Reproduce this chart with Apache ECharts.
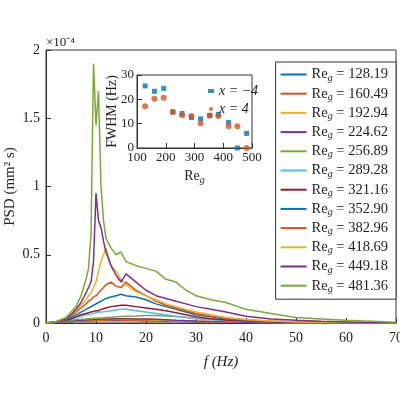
<!DOCTYPE html><html><head><meta charset="utf-8"><script src="https://cdn.jsdelivr.net/npm/echarts@6/dist/echarts.min.js"></script></head><body style="margin:0"><div id="c" style="width:400px;height:400px"></div><script>
const freq=[0,2,4,5,6,7,8,8.5,9,9.5,10,10.5,11,11.5,12,13,14,15,16,18,20,22,24,26,28,30,33,36,40,45,50,55,60,70];
const reNames=['128.19','160.49','192.94','224.62','256.89','289.28','321.16','352.90','382.96','418.69','449.18','481.36'];
const psd=[
[0,0.005,0.01,0.01,0.012,0.012,0.014,0.014,0.015,0.015,0.016,0.016,0.016,0.016,0.017,0.017,0.017,0.017,0.017,0.016,0.015,0.014,0.013,0.012,0.011,0.01,0.008,0.006,0.005,0.003,0.002,0.001,0.001,0],
[0,0.005,0.01,0.012,0.014,0.015,0.016,0.017,0.018,0.018,0.02,0.02,0.02,0.02,0.021,0.022,0.022,0.022,0.021,0.02,0.019,0.018,0.016,0.014,0.012,0.01,0.008,0.006,0.005,0.003,0.002,0.001,0.001,0],
[0,0.006,0.012,0.014,0.016,0.018,0.02,0.021,0.022,0.024,0.025,0.026,0.026,0.026,0.027,0.028,0.028,0.028,0.027,0.026,0.025,0.022,0.02,0.017,0.015,0.012,0.01,0.008,0.006,0.004,0.002,0.001,0.001,0],
[0,0.006,0.012,0.015,0.018,0.02,0.022,0.023,0.024,0.025,0.026,0.027,0.028,0.029,0.03,0.03,0.031,0.031,0.031,0.03,0.029,0.027,0.024,0.02,0.017,0.014,0.011,0.009,0.006,0.004,0.003,0.002,0.001,0],
[0,0.006,0.015,0.02,0.025,0.028,0.03,0.031,0.032,0.034,0.035,0.036,0.037,0.038,0.04,0.042,0.045,0.047,0.05,0.052,0.055,0.055,0.052,0.048,0.042,0.035,0.028,0.02,0.014,0.009,0.006,0.004,0.002,0],
[0,0.008,0.02,0.03,0.04,0.05,0.06,0.062,0.065,0.07,0.075,0.08,0.08,0.082,0.085,0.09,0.095,0.1,0.1,0.09,0.08,0.07,0.06,0.05,0.04,0.032,0.024,0.017,0.011,0.007,0.004,0.003,0.002,0],
[0,0.008,0.02,0.03,0.045,0.06,0.07,0.075,0.08,0.085,0.09,0.09,0.1,0.105,0.11,0.12,0.125,0.13,0.13,0.12,0.11,0.1,0.09,0.075,0.06,0.045,0.032,0.022,0.014,0.008,0.005,0.003,0.002,0],
[0,0.008,0.025,0.04,0.06,0.08,0.1,0.11,0.12,0.13,0.14,0.15,0.16,0.17,0.18,0.19,0.2,0.21,0.2,0.19,0.17,0.14,0.12,0.1,0.08,0.06,0.045,0.03,0.02,0.012,0.007,0.004,0.002,0],
[0,0.01,0.03,0.05,0.08,0.11,0.14,0.16,0.17,0.19,0.2,0.22,0.24,0.26,0.28,0.3,0.27,0.26,0.3,0.24,0.2,0.16,0.13,0.11,0.09,0.07,0.05,0.035,0.022,0.013,0.008,0.005,0.003,0],
[0,0.01,0.03,0.06,0.09,0.13,0.17,0.2,0.22,0.26,0.3,0.38,0.45,0.5,0.55,0.42,0.38,0.32,0.28,0.23,0.2,0.17,0.14,0.12,0.1,0.08,0.06,0.04,0.025,0.015,0.009,0.006,0.004,0],
[0,0.01,0.03,0.06,0.1,0.15,0.22,0.26,0.3,0.45,0.95,0.75,0.7,0.6,0.52,0.42,0.35,0.3,0.36,0.3,0.24,0.2,0.18,0.16,0.14,0.12,0.1,0.08,0.05,0.03,0.02,0.012,0.008,0],
[0,0.01,0.04,0.08,0.12,0.2,0.32,0.4,0.65,1.9,1.45,1.7,1.0,0.75,0.62,0.55,0.5,0.52,0.45,0.42,0.4,0.38,0.32,0.3,0.24,0.2,0.17,0.15,0.1,0.07,0.04,0.03,0.02,0.005]];
const colors=['#0072BD','#D95319','#EDB120','#7E2F8E','#77AC30','#4DBEEE','#A2142F','#0072BD','#D95319','#EDB120','#7E2F8E','#77AC30'];
const insetRe=[128.19,160.49,192.94,224.62,256.89,289.28,321.16,352.90,382.96,418.69,449.18,481.36];
const fwhmNeg=[25.5,23.3,24.5,14.8,14.2,12.5,12,13.3,13.8,10.5,0,6];
const fwhmPos=[17.2,20.2,20.7,14.8,13.5,13.2,10.2,13.4,13.2,8.9,8.9,0];
const F='Liberation Serif';
const series=psd.map((d,i)=>({name:reNames[i],type:'line',showSymbol:false,symbol:'none',data:d.map((v,j)=>[freq[j],v]),lineStyle:{width:1.5,color:colors[i]},itemStyle:{color:colors[i]},xAxisIndex:0,yAxisIndex:0,z:2}));
series.push({name:'n4',type:'scatter',data:insetRe.map((r,i)=>[r,fwhmNeg[i]]),symbol:'rect',symbolSize:5,itemStyle:{color:'#0072BD'},xAxisIndex:1,yAxisIndex:1,z:10});
series.push({name:'p4',type:'scatter',data:insetRe.map((r,i)=>[r,fwhmPos[i]]),symbolSize:6,itemStyle:{color:'#D95319'},xAxisIndex:1,yAxisIndex:1,z:10});
const ax={nameMoveOverlap:false,axisLine:{show:true,lineStyle:{color:'#333'}},axisTick:{inside:true,lineStyle:{color:'#333'}},splitLine:{show:false},axisLabel:{fontFamily:F,fontSize:14,color:'#222'},nameTextStyle:{fontFamily:F,fontSize:15,color:'#222'}};
const c=echarts.init(document.getElementById('c'));
c.setOption({animation:false,
grid:[{left:46,right:4,top:50,bottom:77,outerBoundsMode:'none',show:true,borderColor:'#333',backgroundColor:'#fff'},{left:137,top:75,width:115,height:73,outerBoundsMode:'none',show:true,borderColor:'#333',backgroundColor:'#fff',z:5}],
xAxis:[{...ax,type:'value',min:0,max:70,interval:10,name:'f (Hz)',nameLocation:'middle',nameGap:32,nameTextStyle:{fontFamily:F,fontSize:15,fontStyle:'italic',color:'#222'}},
{...ax,gridIndex:1,type:'value',min:100,max:500,interval:100,name:'Re{s|g}',nameLocation:'middle',nameGap:20,nameTextStyle:{fontFamily:F,fontSize:14,color:'#222',rich:{s:{fontSize:10,fontStyle:'italic',padding:[7,0,0,0]}}},axisLabel:{fontFamily:F,fontSize:13,margin:3,color:'#222'},z:6}],
yAxis:[{...ax,type:'value',min:0,max:2,interval:0.5,name:'PSD (mm² s)',nameLocation:'middle',nameGap:28,axisLabel:{fontFamily:F,fontSize:14,margin:6,color:'#222',formatter:v=>v===0?'0':String(v)}},
{...ax,gridIndex:1,type:'value',min:0,max:30,interval:10,name:'FWHM (Hz)',nameLocation:'middle',nameGap:18,nameTextStyle:{fontFamily:F,fontSize:14,color:'#222'},axisLabel:{fontFamily:F,fontSize:13,margin:3,color:'#222'},z:6}],
legend:[{data:reNames,right:4,top:62,orient:'vertical',itemGap:3.2,itemWidth:26,itemHeight:2,backgroundColor:'#fff',borderColor:'#333',borderWidth:1,padding:[5,8,5,5],icon:'rect',z:20,
formatter:n=>'Re{s|g} = '+n,textStyle:{fontFamily:F,fontSize:14.5,color:'#222',rich:{s:{fontSize:10,fontStyle:'italic',fontFamily:F,padding:[7,0,0,0]}}}},
{data:['n4','p4'],left:203,top:79,orient:'vertical',itemGap:4,itemWidth:6,itemHeight:4,z:20,formatter:n=>n==='n4'?'x = −4':'x = 4',textStyle:{fontFamily:F,fontSize:14,fontStyle:'italic',color:'#222'}}],
graphic:[{type:'text',left:46,top:36,style:{text:'×10⁻⁴',font:'13px "Liberation Serif"',fill:'#222'}}],
series});
</script></body></html>
